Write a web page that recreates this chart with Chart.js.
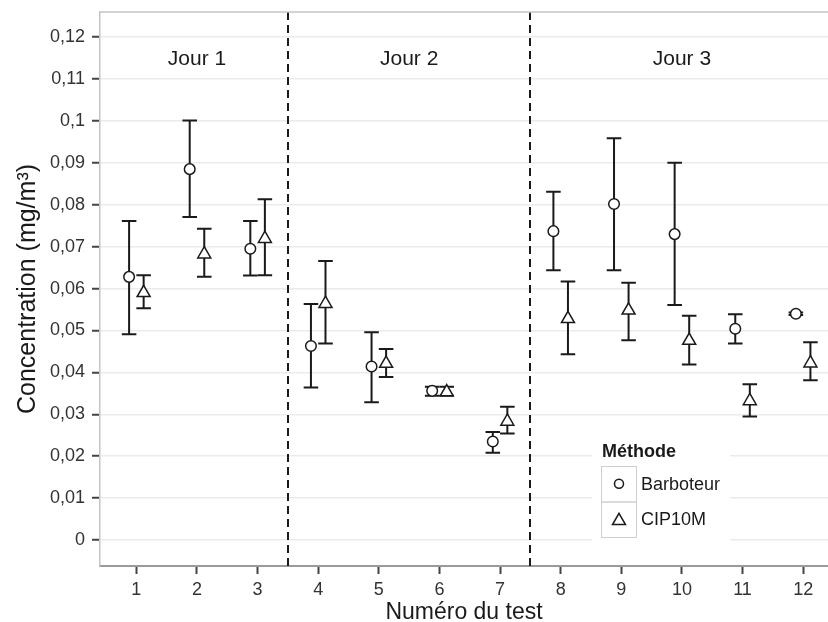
<!DOCTYPE html>
<html>
<head>
<meta charset="utf-8">
<script src="https://cdn.jsdelivr.net/npm/chart.js@4.4.1/dist/chart.umd.min.js"></script>
<style>
    body { margin: 0; background: #fff; }
    #wrap { width: 828px; height: 622px; }
</style>
</head>
<body>
<div id="wrap"><canvas id="chart" width="828" height="622"></canvas></div>
<script>
// test numbers and the day each group of tests belongs to
const tests = [1, 2, 3, 4, 5, 6, 7, 8, 9, 10, 11, 12];
const dayNames = ['Jour 1', 'Jour 2', 'Jour 3'];
const dayFirstTest = [1, 4, 8];
const dayLastTest = [3, 7, 12];

// Barboteur: mean and error bar bounds (mg/m3)
const barbMean = [0.0628, 0.0885, 0.0695, 0.0463, 0.0414, 0.0356, 0.0235, 0.0737, 0.0802, 0.0730, 0.0504, 0.0540];
const barbLow  = [0.0491, 0.0771, 0.0631, 0.0364, 0.0329, 0.0344, 0.0208, 0.0644, 0.0644, 0.0561, 0.0469, 0.0537];
const barbHigh = [0.0761, 0.1001, 0.0761, 0.0563, 0.0496, 0.0366, 0.0258, 0.0831, 0.0959, 0.0900, 0.0539, 0.0543];

// CIP10M
const cipMean = [0.0590, 0.0682, 0.0719, 0.0564, 0.0421, 0.0353, 0.0283, 0.0528, 0.0548, 0.0476, 0.0332, 0.0422];
const cipLow  = [0.0553, 0.0628, 0.0632, 0.0469, 0.0389, 0.0344, 0.0254, 0.0443, 0.0477, 0.0419, 0.0295, 0.0381];
const cipHigh = [0.0632, 0.0743, 0.0813, 0.0666, 0.0456, 0.0366, 0.0318, 0.0617, 0.0614, 0.0535, 0.0372, 0.0472];

const yTickValues = [0, 0.01, 0.02, 0.03, 0.04, 0.05, 0.06, 0.07, 0.08, 0.09, 0.1, 0.11, 0.12];

const DODGE = 0.12;      // horizontal shift of each method around the test number
const CAP = 0.12;        // half width of error bar caps (x units)
const JOUR_Y = 0.1147;   // height of the "Jour n" labels
const FONT = '"Liberation Sans", Arial, sans-serif';
const INK = '#1a1a1a';

const fmt = v => {
    const r = Math.round(v * 1000) / 1000;
    return String(r === 0 ? 0 : r).replace('.', ',');
};

const series = [
    { name: 'Barboteur', shape: 'circle', radius: 5.3, mean: barbMean, low: barbLow, high: barbHigh, dx: -DODGE },
    { name: 'CIP10M', shape: 'triangle', radius: 7.5, mean: cipMean, low: cipLow, high: cipHigh, dx: DODGE }
];

const errorBars = {
    id: 'errorBars',
    beforeDatasetsDraw(chart) {
        const { ctx, chartArea, scales: { x, y } } = chart;
        ctx.save();

        // day separators
        ctx.strokeStyle = INK;
        ctx.lineWidth = 2;
        ctx.setLineDash([8, 5]);
        for (let i = 1; i < dayFirstTest.length; i++) {
            const px = Math.round(x.getPixelForValue((dayLastTest[i - 1] + dayFirstTest[i]) / 2));
            ctx.beginPath();
            ctx.moveTo(px, chartArea.top);
            ctx.lineTo(px, chartArea.bottom);
            ctx.stroke();
        }
        ctx.setLineDash([]);

        // day labels
        ctx.fillStyle = INK;
        ctx.font = '21px ' + FONT;
        ctx.textAlign = 'center';
        ctx.textBaseline = 'middle';
        dayNames.forEach((d, i) => {
            const cx = x.getPixelForValue((dayFirstTest[i] + dayLastTest[i]) / 2);
            ctx.fillText(d, cx, y.getPixelForValue(JOUR_Y));
        });

        // error bars
        ctx.lineWidth = 2;
        series.forEach(s => {
            tests.forEach((t, i) => {
                const xc = x.getPixelForValue(t + s.dx);
                const xl = x.getPixelForValue(t + s.dx - CAP);
                const xr = x.getPixelForValue(t + s.dx + CAP);
                const yl = y.getPixelForValue(s.low[i]);
                const yh = y.getPixelForValue(s.high[i]);
                ctx.beginPath();
                ctx.moveTo(xc, yl); ctx.lineTo(xc, yh);
                ctx.moveTo(xl, yl); ctx.lineTo(xr, yl);
                ctx.moveTo(xl, yh); ctx.lineTo(xr, yh);
                ctx.stroke();
            });
        });
        ctx.restore();
    },
    afterDraw(chart) {
        const { ctx, chartArea } = chart;
        ctx.save();

        // top panel border
        ctx.strokeStyle = '#c4c4c4';
        ctx.lineWidth = 1.5;
        ctx.beginPath();
        ctx.moveTo(chartArea.left, chartArea.top);
        ctx.lineTo(chartArea.right, chartArea.top);
        ctx.stroke();

        // legend
        const lx = 601, ly = 466, kw = 35, kh = 35.5;
        ctx.fillStyle = '#fff';
        ctx.fillRect(592, 438, 138, 108);
        ctx.fillStyle = INK;
        ctx.font = 'bold 18px ' + FONT;
        ctx.textAlign = 'left';
        ctx.textBaseline = 'middle';
        ctx.fillText('Méthode', 602, 452);

        series.forEach((s, i) => {
            const ky = ly + i * kh;
            ctx.strokeStyle = '#cfcfcf';
            ctx.lineWidth = 1;
            ctx.strokeRect(lx + 0.5, ky + 0.5, kw, kh);
            ctx.strokeStyle = INK;
            ctx.fillStyle = '#fff';
            ctx.lineWidth = 1.5;
            Chart.helpers.drawPoint(ctx, {
                pointStyle: s.shape,
                radius: s.shape === 'circle' ? 4.5 : 7.5,
                borderWidth: 1.5,
                rotation: 0
            }, lx + kw / 2 + 0.5, ky + kh / 2 + (s.shape === 'triangle' ? 1.5 : 0));
            ctx.fillStyle = INK;
            ctx.font = '18px ' + FONT;
            ctx.fillText(s.name, 641, ky + kh / 2 + 1);
        });
        ctx.restore();
    }
};

new Chart(document.getElementById('chart'), {
    type: 'scatter',
    data: {
        datasets: series.map(s => ({
            label: s.name,
            data: tests.map((t, i) => ({ x: t + s.dx, y: s.mean[i] })),
            pointStyle: s.shape,
            pointRadius: s.radius,
            pointBorderWidth: 1.5,
            borderColor: INK,
            backgroundColor: '#fff'
        }))
    },
    options: {
        responsive: false,
        animation: false,
        layout: { autoPadding: false, padding: { top: 12, right: 0, left: 0, bottom: 0 } },
        plugins: {
            legend: { display: false },
            tooltip: { enabled: false }
        },
        scales: {
            x: {
                type: 'linear',
                min: 0.4,
                max: 12.41,
                afterFit: s => { s.height = 56; s.paddingLeft = 0; s.paddingRight = 0; },
                afterBuildTicks: s => { s.ticks = tests.map(v => ({ value: v })); },
                grid: { drawOnChartArea: false, drawTicks: true, tickLength: 8, tickColor: '#444', tickWidth: 2 },
                border: { display: true, color: '#9a9a9a', width: 2 },
                ticks: {
                    padding: 5,
                    color: '#333',
                    font: { family: FONT, size: 18 },
                    callback: v => String(v)
                },
                title: {
                    display: true,
                    text: 'Numéro du test',
                    color: INK,
                    font: { family: FONT, size: 23, lineHeight: 0.8 },
                    padding: { top: 0, bottom: 0 }
                }
            },
            y: {
                min: -0.0062,
                max: 0.126,
                afterFit: s => { s.width = 100; s.paddingTop = 0; s.paddingBottom = 0; },
                afterBuildTicks: s => { s.ticks = yTickValues.map(v => ({ value: v })); },
                grid: { color: '#ebebeb', lineWidth: 1.5, drawTicks: true, tickLength: 8, tickColor: '#444', tickWidth: 2 },
                border: { display: true, color: '#c4c4c4', width: 1.5 },
                ticks: {
                    padding: 7,
                    color: '#333',
                    font: { family: FONT, size: 18 },
                    callback: v => fmt(v)
                },
                title: {
                    display: true,
                    text: 'Concentration (mg/m³)',
                    color: INK,
                    font: { family: FONT, size: 25, lineHeight: 1.2 },
                    padding: { top: 13, bottom: 0 }
                }
            }
        }
    },
    plugins: [errorBars]
});
</script>
</body>
</html>
